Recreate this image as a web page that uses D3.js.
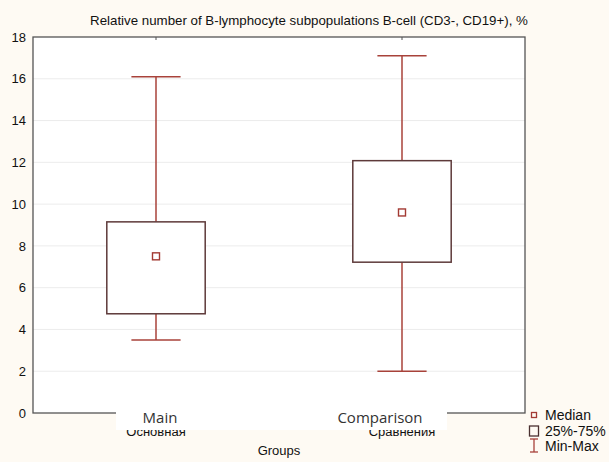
<!DOCTYPE html>
<html><head><meta charset="utf-8">
<script src="https://cdn.jsdelivr.net/npm/d3@7/dist/d3.min.js"></script>
<style>
html,body{margin:0;padding:0;background:#fefaf3;}
svg{display:block;}
</style></head>
<body>
<svg id="chart" width="609" height="462"></svg>
<script>
// ---- data ----
const categories = ["Main", "Comparison"];
const originalLabels = ["Основная", "Сравнения"];
const minValues = [3.5, 2.0];
const q1Values = [4.75, 7.22];
const medianValues = [7.5, 9.6];
const q3Values = [9.15, 12.08];
const maxValues = [16.1, 17.1];
const yTicks = [0, 2, 4, 6, 8, 10, 12, 14, 16, 18];
const titleText = "Relative number of B-lymphocyte subpopulations B-cell (CD3-, CD19+), %";
const xAxisTitle = "Groups";
const legendLabels = ["Median", "25%-75%", "Min-Max"];

const rows = categories.map((c, i) => ({
  cat: c, orig: originalLabels[i], min: minValues[i], q1: q1Values[i],
  med: medianValues[i], q3: q3Values[i], max: maxValues[i]
}));

const svg = d3.select("#chart");
const W = 609, H = 462;
const m = {left: 33, right: 84, top: 37, bottom: 49};
const x0 = m.left, x1 = W - m.right, y0 = H - m.bottom, y1 = m.top;

const x = d3.scalePoint().domain(categories).range([x0, x1]).padding(0.5);
const y = d3.scaleLinear().domain([0, 18]).range([y0, y1]);
const step = x.step();
const boxW = step * 0.4, capW = step * 0.2;

const font = "'Liberation Sans', Arial, sans-serif";

// plot background
svg.append("rect").attr("x", x0).attr("y", y1).attr("width", x1 - x0).attr("height", y0 - y1).attr("fill", "#ffffff");

// grid lines
svg.append("g").selectAll("line").data(yTicks.filter(t => t > 0 && t < 18)).join("line")
  .attr("x1", x0).attr("x2", x1).attr("y1", d => y(d)).attr("y2", d => y(d))
  .attr("stroke", "#ececec").attr("stroke-width", 1);

// y axis labels via d3 axis
const yAxis = svg.append("g").attr("transform", `translate(${x0},0)`)
  .call(d3.axisLeft(y).tickValues(yTicks).tickSize(0).tickPadding(7));
yAxis.select(".domain").remove();
yAxis.selectAll("text").attr("font-family", font).attr("font-size", 13).attr("fill", "#111");

// frame
svg.append("rect").attr("x", x0).attr("y", y1).attr("width", x1 - x0).attr("height", y0 - y1)
  .attr("fill", "none").attr("stroke", "#555").attr("stroke-width", 1.3);

// small ticks at categories on top border
svg.append("g").selectAll("line").data(categories).join("line")
  .attr("x1", d => x(d)).attr("x2", d => x(d)).attr("y1", y1).attr("y2", y1 + 3)
  .attr("stroke", "#555").attr("stroke-width", 1);

// boxes
const g = svg.append("g").selectAll("g").data(rows).join("g");
const wCol = "#a8423a";
g.append("line").attr("x1", d => x(d.cat)).attr("x2", d => x(d.cat))
  .attr("y1", d => y(d.max)).attr("y2", d => y(d.q3)).attr("stroke", wCol).attr("stroke-width", 1.5);
g.append("line").attr("x1", d => x(d.cat)).attr("x2", d => x(d.cat))
  .attr("y1", d => y(d.q1)).attr("y2", d => y(d.min)).attr("stroke", wCol).attr("stroke-width", 1.5);
g.append("line").attr("x1", d => x(d.cat) - capW / 2).attr("x2", d => x(d.cat) + capW / 2)
  .attr("y1", d => y(d.max)).attr("y2", d => y(d.max)).attr("stroke", wCol).attr("stroke-width", 1.5);
g.append("line").attr("x1", d => x(d.cat) - capW / 2).attr("x2", d => x(d.cat) + capW / 2)
  .attr("y1", d => y(d.min)).attr("y2", d => y(d.min)).attr("stroke", wCol).attr("stroke-width", 1.5);
g.append("rect").attr("x", d => x(d.cat) - boxW / 2).attr("y", d => y(d.q3))
  .attr("width", boxW).attr("height", d => y(d.q1) - y(d.q3))
  .attr("fill", "#ffffff").attr("stroke", "#5e3a3a").attr("stroke-width", 1.5);
g.append("rect").attr("x", d => x(d.cat) - 3.5).attr("y", d => y(d.med) - 3.5)
  .attr("width", 7).attr("height", 7).attr("fill", "none").attr("stroke", "#a33a33").attr("stroke-width", 1.4);

// original category labels (mostly covered by the white label box)
svg.append("g").selectAll("text").data(rows).join("text")
  .attr("x", d => x(d.cat)).attr("y", 436).attr("text-anchor", "middle")
  .attr("font-family", font).attr("font-size", 13).attr("fill", "#111").text(d => d.orig);

// white cover box
svg.append("rect").attr("x", 116).attr("y", 404).attr("width", 331).attr("height", 26).attr("fill", "#ffffff");

// english labels
const engX = [160, 380];
svg.append("g").selectAll("text").data(rows).join("text")
  .attr("x", (d, i) => engX[i]).attr("y", 423).attr("text-anchor", "middle")
  .attr("font-family", "'Open Sans', 'Noto Sans', sans-serif").attr("font-size", 15).attr("fill", "#333")
  .text(d => d.cat);

// title
svg.append("text").attr("x", 309).attr("y", 25).attr("text-anchor", "middle")
  .attr("font-family", font).attr("font-size", 13.3).attr("fill", "#111").text(titleText);

// x axis title
svg.append("text").attr("x", 279).attr("y", 455).attr("text-anchor", "middle")
  .attr("font-family", font).attr("font-size", 13).attr("fill", "#111").text(xAxisTitle);

// legend
const lg = svg.append("g");
const lx = 534, ly = [415, 431, 446];
lg.append("rect").attr("x", lx - 2.5).attr("y", ly[0] - 2.5).attr("width", 5).attr("height", 5)
  .attr("fill", "none").attr("stroke", "#a33a33").attr("stroke-width", 1.3);
lg.append("rect").attr("x", lx - 4.5).attr("y", ly[1] - 5).attr("width", 9).attr("height", 10)
  .attr("fill", "none").attr("stroke", "#4a3030").attr("stroke-width", 1.3);
lg.append("line").attr("x1", lx).attr("x2", lx).attr("y1", ly[2] - 7).attr("y2", ly[2] + 6).attr("stroke", wCol).attr("stroke-width", 1.3);
lg.append("line").attr("x1", lx - 4).attr("x2", lx + 4).attr("y1", ly[2] - 7).attr("y2", ly[2] - 7).attr("stroke", wCol).attr("stroke-width", 1.3);
lg.append("line").attr("x1", lx - 4).attr("x2", lx + 4).attr("y1", ly[2] + 6).attr("y2", ly[2] + 6).attr("stroke", wCol).attr("stroke-width", 1.3);
lg.selectAll("text").data(legendLabels).join("text")
  .attr("x", 545).attr("y", (d, i) => ly[i] + 5)
  .attr("font-family", font).attr("font-size", 14).attr("fill", "#111").text(d => d);
</script>
</body></html>
